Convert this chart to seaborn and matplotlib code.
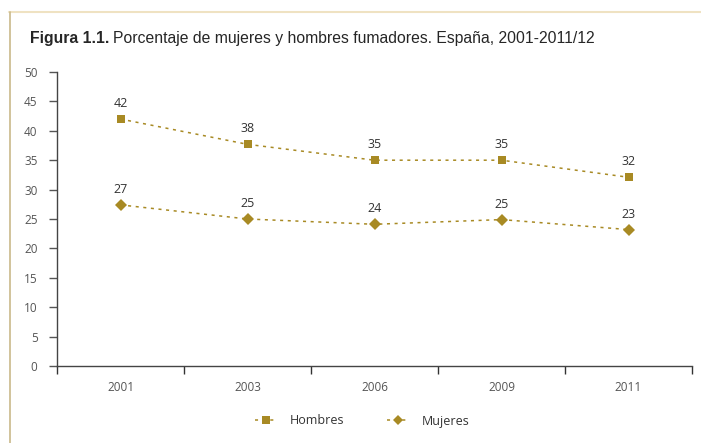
import pandas as pd
import numpy as np
import seaborn as sns
import matplotlib.pyplot as plt
from matplotlib.lines import Line2D

years = ["2001", "2003", "2006", "2009", "2011"]
hombres = [42.0, 37.7, 35.0, 35.0, 32.1]
mujeres = [27.4, 25.0, 24.1, 24.9, 23.2]
hombres_labels = ["42", "38", "35", "35", "32"]
mujeres_labels = ["27", "25", "24", "25", "23"]
series = ["Hombres", "Mujeres"]

color = "#A88A24"
text_grey = "#555555"

df = pd.DataFrame({
    "year": years * 2,
    "value": hombres + mujeres,
    "serie": ["Hombres"] * len(years) + ["Mujeres"] * len(years),
})
df["pos"] = df.groupby("serie").cumcount()

sns.set_style("white")
plt.rcParams["font.family"] = ["Open Sans", "DejaVu Sans"]

fig = plt.figure(figsize=(7.01, 4.43), dpi=100)
ax = fig.add_axes([57 / 701, 77 / 443, 635 / 701, 294 / 443])

sns.lineplot(
    data=df, x="pos", y="value", hue="serie", style="serie",
    palette=[color, color], markers={"Hombres": "s", "Mujeres": "D"},
    dashes={"Hombres": (2, 3), "Mujeres": (2, 3)},
    markersize=6.3, markeredgewidth=0, linewidth=1.1, legend=False, ax=ax,
)

# data labels
for i in range(len(years)):
    ax.annotate(hombres_labels[i], (i, hombres[i]), xytext=(0, 6.5),
                textcoords="offset points", ha="center", va="bottom",
                fontsize=9, color="#333333")
    ax.annotate(mujeres_labels[i], (i, mujeres[i]), xytext=(0, 6.5),
                textcoords="offset points", ha="center", va="bottom",
                fontsize=9, color="#333333")

ax.set_xlim(-0.5, len(years) - 0.5)
ax.set_ylim(0, 50)
ax.set_yticks(np.arange(0, 51, 5))
ax.set_xticks(np.arange(-0.5, len(years), 1))
ax.set_xticklabels([])
ax.set_xticks(np.arange(len(years)), minor=True)
ax.set_xticklabels(years, minor=True)
ax.tick_params(axis="x", which="major", length=6, width=1, color="#333333",
               direction="out", bottom=True)
ax.tick_params(axis="x", which="minor", length=0, pad=11, labelsize=8.5,
               labelcolor=text_grey)
ax.tick_params(axis="y", length=6, width=1, color="#555555", direction="out",
               left=True, labelsize=8.5, labelcolor=text_grey, pad=8)
ax.set_xlabel("")
ax.set_ylabel("")
for s in ["top", "right"]:
    ax.spines[s].set_visible(False)
for s in ["left", "bottom"]:
    ax.spines[s].set_color("#444444")
    ax.spines[s].set_linewidth(1)

# legend
handles = [
    Line2D([], [], color=color, marker="s", linestyle=(0, (2, 3)),
           markersize=6, markeredgewidth=0, linewidth=1.1),
    Line2D([], [], color=color, marker="D", linestyle=(0, (2, 3)),
           markersize=5, markeredgewidth=0, linewidth=1.1),
]
fig.legend(handles, series, loc="center", bbox_to_anchor=(362 / 701, 1 - 421 / 443),
           ncol=2, frameon=False, fontsize=9, handlelength=1.8,
           handletextpad=1.0, columnspacing=3.4, labelcolor="#333333")

# title: bold prefix + normal text
t1 = fig.text(30 / 701, 1 - 39 / 443, "Figura 1.1.", fontsize=11.3,
              fontweight="bold", family=["Liberation Sans"], va="center")
fig.canvas.draw()
bb = t1.get_window_extent()
fig.text(bb.x1 / fig.bbox.width + 4 / 701, 1 - 39 / 443,
         "Porcentaje de mujeres y hombres fumadores. España, 2001-2011/12",
         fontsize=11.3, family=["Liberation Sans"], va="center")

# frame lines around the figure box
fig.add_artist(Line2D([9 / 701, 1], [1 - 12 / 443, 1 - 12 / 443],
                      color="#EFE2C2", linewidth=1.5))
fig.add_artist(Line2D([9.5 / 701, 9.5 / 701], [0, 1 - 12 / 443],
                      color="#C9B98A", linewidth=1.2))

fig.savefig("out.png", dpi=100)
